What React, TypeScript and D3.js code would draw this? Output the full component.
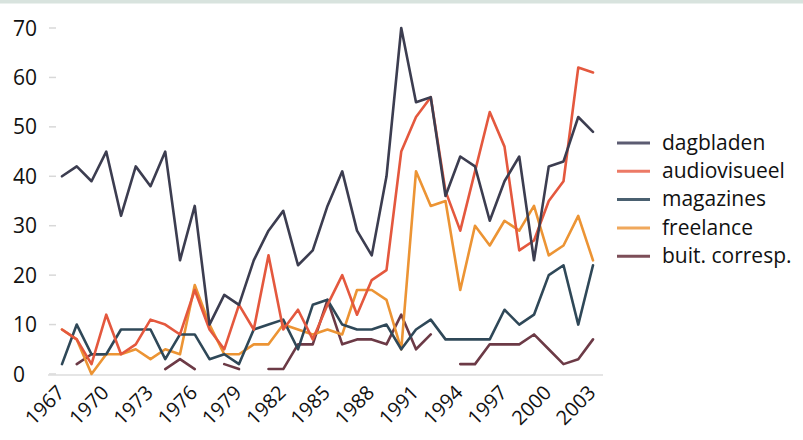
import React from "react";
import * as d3 from "d3";

const years: number[] = d3.range(1967, 2004);
const tickYears: number[] = [1967, 1970, 1973, 1976, 1979, 1982, 1985, 1988, 1991, 1994, 1997, 2000, 2003];
const yTicks: number[] = [0, 10, 20, 30, 40, 50, 60, 70];

const dagbladen: (number | null)[] = [40, 42, 39, 45, 32, 42, 38, 45, 23, 34, 10, 16, 14, 23, 29, 33, 22, 25, 34, 41, 29, 24, 40, 70, 55, 56, 36, 44, 42, 31, 39, 44, 23, 42, 43, 52, 49];
const audiovisueel: (number | null)[] = [9, 7, 2, 12, 4, 6, 11, 10, 8, 17, 9, 5, 14, 9, 24, 9, 13, 7, 14, 20, 12, 19, 21, 45, 52, 56, 37, 29, 41, 53, 46, 25, 27, 35, 39, 62, 61];
const magazines: (number | null)[] = [2, 10, 4, 4, 9, 9, 9, 3, 8, 8, 3, 4, 2, 9, 10, 11, 5, 14, 15, 10, 9, 9, 10, 5, 9, 11, 7, 7, 7, 7, 13, 10, 12, 20, 22, 10, 22];
const freelance: (number | null)[] = [9, 7, 0, 4, 4, 5, 3, 5, 4, 18, 10, 4, 4, 6, 6, 10, 9, 8, 9, 8, 17, 17, 15, 5, 41, 34, 35, 17, 30, 26, 31, 29, 34, 24, 26, 32, 23];
const buitCorresp: (number | null)[] = [null, 2, 4, 4, null, null, null, 1, 3, 1, null, 2, 1, null, 1, 1, 6, 6, 15, 6, 7, 7, 6, 12, 5, 8, null, 2, 2, 6, 6, 6, 8, 5, 2, 3, 7];

const seriesNames: string[] = ["dagbladen", "audiovisueel", "magazines", "freelance", "buit. corresp."];
const seriesColors: string[] = ["#3c3d50", "#e4583e", "#2f4858", "#ec9434", "#6c3a46"];
const legendColors: string[] = ["#5c5c72", "#ec7a66", "#4a6070", "#f0a85c", "#7c4e58"];
const seriesData = [dagbladen, audiovisueel, magazines, freelance, buitCorresp];

const FONT = "'Open Sans', Lato, sans-serif";

export default function App() {
  const W = 803, H = 440;
  const x = d3.scaleLinear().domain([1967, 2003]).range([62, 593]);
  const y = d3.scaleLinear().domain([0, 70]).range([374, 28]);

  const line = d3
    .line<number | null>()
    .defined((d) => d != null)
    .x((_, i) => x(years[i]))
    .y((d) => y(d as number));

  const order = [4, 3, 2, 1, 0];

  return (
    <svg
      width={W}
      height={H}
      style={{ position: "absolute", left: 0, top: 0, background: "#ffffff" }}
    >
      <rect x={0} y={0} width={W} height={3.5} fill="#d8e3de" />
      {yTicks.map((t) => (
        <g key={t}>
          <line x1={49} x2={56} y1={y(t)} y2={y(t)} stroke="#d8d8d8" strokeWidth={1.5} />
          <text x={13} y={y(t)} dy="0.36em" fontSize={21} fontFamily={FONT} fill="#111">
            {t}
          </text>
        </g>
      ))}
      <line x1={48} x2={603} y1={375} y2={375} stroke="#dcdcdc" strokeWidth={1.5} />
      {tickYears.map((t) => (
        <text
          key={t}
          transform={`translate(${x(t) - 6},${384}) rotate(-45)`}
          textAnchor="end"
          dy="0.7em"
          fontSize={20}
          fontFamily={FONT}
          fill="#111"
        >
          {t}
        </text>
      ))}
      {order.map((si) => (
        <path
          key={si}
          d={line(seriesData[si]) || ""}
          fill="none"
          stroke={seriesColors[si]}
          strokeWidth={2.6}
          strokeLinejoin="round"
          strokeLinecap="round"
        />
      ))}
      {seriesNames.map((n, i) => {
        const ly = 143 + i * 28.3;
        return (
          <g key={n}>
            <line x1={617} x2={650} y1={ly} y2={ly} stroke={legendColors[i]} strokeWidth={3} />
            <text x={662} y={ly} dy="0.32em" fontSize={21} fontFamily={FONT} fill="#111">
              {n}
            </text>
          </g>
        );
      })}
    </svg>
  );
}
